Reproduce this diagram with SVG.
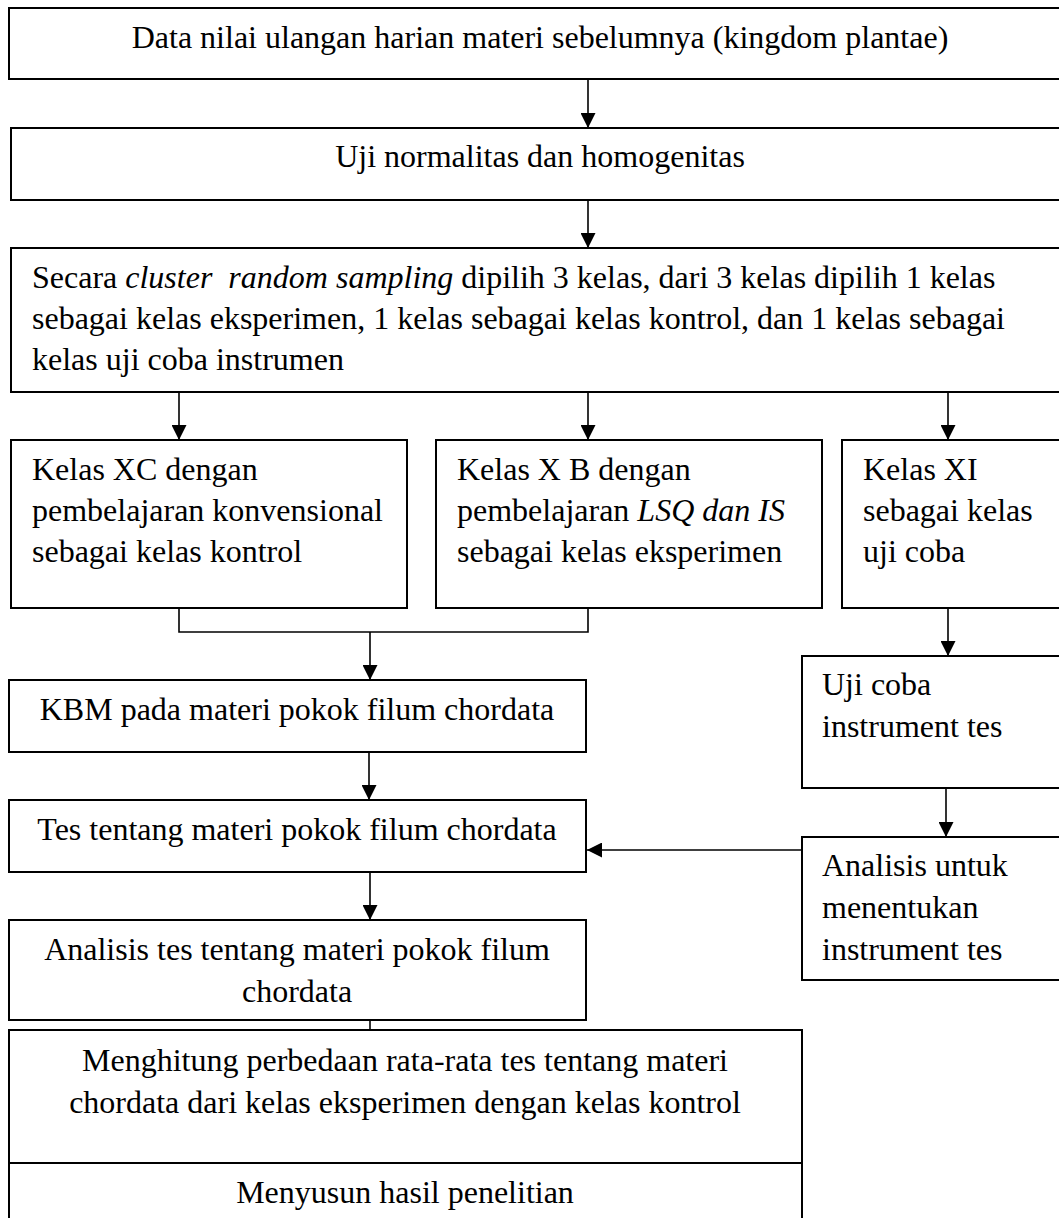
<svg xmlns="http://www.w3.org/2000/svg" width="1059" height="1218" viewBox="0 0 1059 1218">
<style>
.box{fill:#fff;stroke:#000;stroke-width:2}
.t{font-family:"Liberation Serif","Times New Roman",serif;font-size:32px;fill:#000;white-space:pre}
.c{text-anchor:middle}
.ln{fill:none;stroke:#000;stroke-width:1.6}
.i{font-style:italic}
</style>
<defs>
<marker id="ah" viewBox="0 0 10 10" refX="10" refY="5" markerWidth="15" markerHeight="15" markerUnits="userSpaceOnUse" orient="auto">
<path d="M0,0 L10,5 L0,10 Z" fill="#000"/>
</marker>
</defs>
<rect width="1059" height="1218" fill="#fff"/>
<g id="connectors">
<line class="ln" x1="588" y1="79" x2="588" y2="128" marker-end="url(#ah)"/>
<line class="ln" x1="588" y1="200" x2="588" y2="248" marker-end="url(#ah)"/>
<line class="ln" x1="179" y1="392" x2="179" y2="440" marker-end="url(#ah)"/>
<line class="ln" x1="588" y1="392" x2="588" y2="440" marker-end="url(#ah)"/>
<line class="ln" x1="948" y1="392" x2="948" y2="440" marker-end="url(#ah)"/>
<polyline class="ln" points="179,608 179,632 588,632 588,608"/>
<line class="ln" x1="370" y1="632" x2="370" y2="680" marker-end="url(#ah)"/>
<line class="ln" x1="948" y1="608" x2="948" y2="656" marker-end="url(#ah)"/>
<line class="ln" x1="369" y1="752" x2="369" y2="800" marker-end="url(#ah)"/>
<line class="ln" x1="946" y1="788" x2="946" y2="837" marker-end="url(#ah)"/>
<line class="ln" x1="802" y1="850" x2="587" y2="850" stroke-width="2" marker-end="url(#ah)"/>
<line class="ln" x1="370" y1="872" x2="370" y2="920" marker-end="url(#ah)"/>
<line class="ln" x1="370" y1="1020" x2="370" y2="1030"/>
<line class="ln" x1="370" y1="1138" x2="370" y2="1163"/>
</g>
<g id="n1">
<rect class="box" x="9" y="8" width="1065" height="71"/>
<text class="t c" x="540" y="48">Data nilai ulangan harian materi sebelumnya (kingdom plantae)</text>
</g>
<g id="n2">
<rect class="box" x="11" y="128" width="1063" height="72"/>
<text class="t c" x="540" y="167">Uji normalitas dan homogenitas</text>
</g>
<g id="n3">
<rect class="box" x="11" y="248" width="1063" height="144"/>
<text class="t" x="32" y="288">Secara <tspan class="i">cluster  random sampling</tspan> dipilih 3 kelas, dari 3 kelas dipilih 1 kelas</text>
<text class="t" x="32" y="329">sebagai kelas eksperimen, 1 kelas sebagai kelas kontrol, dan 1 kelas sebagai</text>
<text class="t" x="32" y="370">kelas uji coba instrumen</text>
</g>
<g id="nXC">
<rect class="box" x="11" y="440" width="396" height="168"/>
<text class="t" x="32" y="480">Kelas XC dengan</text>
<text class="t" x="32" y="521">pembelajaran konvensional</text>
<text class="t" x="32" y="562">sebagai kelas kontrol</text>
</g>
<g id="nXB">
<rect class="box" x="436" y="440" width="386" height="168"/>
<text class="t" x="457" y="480">Kelas X B dengan</text>
<text class="t" x="457" y="521">pembelajaran <tspan class="i">LSQ dan IS</tspan></text>
<text class="t" x="457" y="562">sebagai kelas eksperimen</text>
</g>
<g id="nXI">
<rect class="box" x="842" y="440" width="232" height="168"/>
<text class="t" x="863" y="480">Kelas XI</text>
<text class="t" x="863" y="521">sebagai kelas</text>
<text class="t" x="863" y="562">uji coba</text>
</g>
<g id="nKBM">
<rect class="box" x="9" y="680" width="577" height="72"/>
<text class="t c" x="297" y="720">KBM pada materi pokok filum chordata</text>
</g>
<g id="nUji">
<rect class="box" x="802" y="656" width="272" height="132"/>
<text class="t" x="822" y="695">Uji coba</text>
<text class="t" x="822" y="737">instrument tes</text>
</g>
<g id="nTes">
<rect class="box" x="9" y="800" width="577" height="72"/>
<text class="t c" x="297" y="840">Tes tentang materi pokok filum chordata</text>
</g>
<g id="nAnalisisUntuk">
<rect class="box" x="802" y="837" width="272" height="143"/>
<text class="t" x="822" y="876">Analisis untuk</text>
<text class="t" x="822" y="918">menentukan</text>
<text class="t" x="822" y="960">instrument tes</text>
</g>
<g id="nAnalisisTes">
<rect class="box" x="9" y="920" width="577" height="100"/>
<text class="t c" x="297" y="960">Analisis tes tentang materi pokok filum</text>
<text class="t c" x="297" y="1002">chordata</text>
</g>
<g id="nMenghitung">
<rect class="box" x="9" y="1030" width="793" height="133"/>
<text class="t c" x="405" y="1071">Menghitung perbedaan rata-rata tes tentang materi</text>
<text class="t c" x="405" y="1113">chordata dari kelas eksperimen dengan kelas kontrol</text>
</g>
<g id="nMenyusun">
<rect class="box" x="9" y="1163" width="793" height="70"/>
<text class="t c" x="405" y="1203">Menyusun hasil penelitian</text>
</g>
</svg>
